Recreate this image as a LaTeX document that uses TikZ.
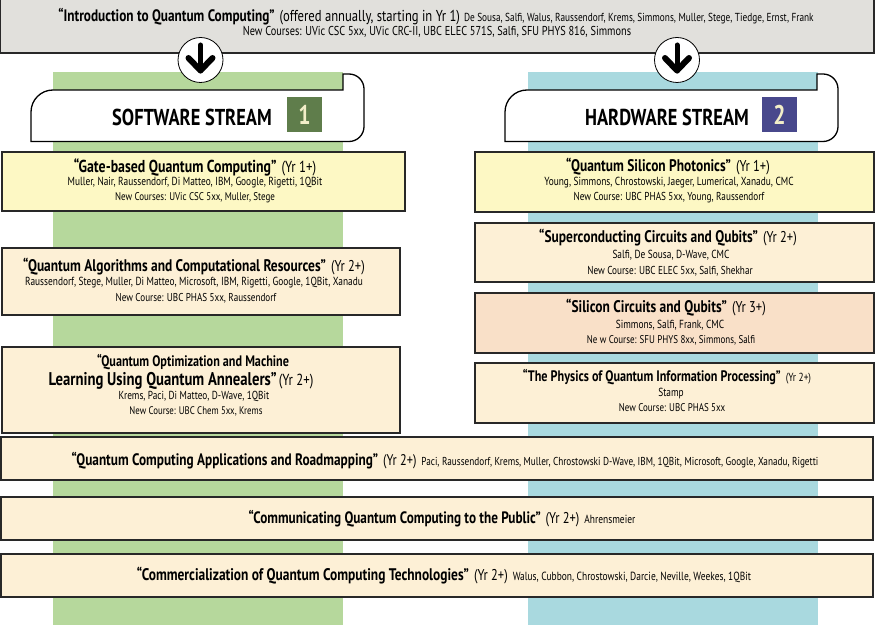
\documentclass[tikz,border=0pt]{standalone}
\usepackage{fontspec}
\setmainfont{PT Sans}[FakeStretch=0.8]
\usepackage{xcolor}
\usepackage{tikz}
\usetikzlibrary{positioning}
\definecolor{introgray}{RGB}{225,224,220}
\definecolor{swgreen}{RGB}{182,216,156}
\definecolor{hwblue}{RGB}{169,217,223}
\definecolor{yellowbox}{RGB}{253,248,196}
\definecolor{creambox}{RGB}{253,240,214}
\definecolor{peachbox}{RGB}{249,224,200}
\definecolor{swbadge}{RGB}{95,125,75}
\definecolor{hwbadge}{RGB}{72,72,140}
\definecolor{numcream}{RGB}{242,238,200}
\definecolor{boxline}{RGB}{40,40,40}
\newcommand{\fs}[1]{\fontsize{#1}{#1}\selectfont}
\newcommand{\yr}[2][15.6]{\hspace{5pt}{\fs{#1}\mdseries(Yr~#2)}}

\begin{document}
\begin{tikzpicture}[x=1pt, y=-1pt,
    course/.style={draw=boxline, line width=1.2pt, inner sep=0pt},
    ttl/.style={font=\fs{16.8}\bfseries, inner sep=0pt},
    who/.style={font=\fs{11.7}, inner sep=0pt},
    crs/.style={font=\fs{11.2}, inner sep=0pt},
    banner/.style={draw=black, line width=1.3pt, fill=white},
    badge/.style={minimum size=35pt, inner sep=0pt, font=\fs{27}\bfseries, text=numcream},
    stream/.style={font=\fs{23}\bfseries, inner sep=0pt},
    arrowdisc/.style={circle, draw=black, line width=0.8pt, fill=white, minimum size=45pt, inner sep=0pt},
    arrowstroke/.style={line width=5pt, line cap=round, line join=round}]
  \useasboundingbox (0,0) rectangle (875,628);

  %% Stream columns
  \fill[swgreen] (53,72) rectangle (343,625);
  \fill[hwblue] (528,72) rectangle (818,625);

  %% Intro course bar
  \node[course, fill=introgray, minimum width=874, minimum height=54] (intro) at (437,26) {};
  \node[ttl, font=\fs{16.6}\bfseries] (intro-t) at (436,17)
    {“Introduction to Quantum Computing”\hspace{5pt}{\fs{15.8}\mdseries(offered annually, starting in Yr 1)}\hspace{4pt}{\fs{11.6}\mdseries De Sousa, Salfi, Walus, Raussendorf, Krems, Simmons, Muller, Stege, Tiedge, Ernst, Frank}};
  \node[who, font=\fs{12.9}] (intro-c) at (437,32) {New Courses: UVic CSC 5xx, UVic CRC-II, UBC ELEC 571S, Salfi, SFU PHYS 816, Simmons};

  %% Arrows into the streams
  \foreach \nm/\x in {sw/200.5, hw/677}{
    \node[arrowdisc] (\nm-arr) at (\x,60) {};
    \draw[arrowstroke] (\nm-arr.center) ++(0,-15) -- ++(0,26);
    \draw[arrowstroke, line width=6pt] (\nm-arr.center) ++(-12,-2) -- ++(12,12.5) -- ++(12,-12.5);
  }

  %% Stream banners
  \draw[banner] (31,141.5) -- (31,112) arc[start angle=180, end angle=270, radius=22]
    -- (343,90) -- (343,74) -- (349,74) arc[start angle=270, end angle=360, radius=15]
    -- (364,126.5) arc[start angle=0, end angle=90, radius=15] -- cycle;
  \draw[banner] (505,141.5) -- (505,112) arc[start angle=180, end angle=270, radius=22]
    -- (817,90) -- (817,74) -- (823,74) arc[start angle=270, end angle=360, radius=15]
    -- (838,126.5) arc[start angle=0, end angle=90, radius=15] -- cycle;
  \node[stream] (sw-txt) at (192,117) {SOFTWARE STREAM};
  \node[badge, fill=swbadge] (sw-num) at (304.5,114.5) {1};
  \node[stream] (hw-txt) at (667,117) {HARDWARE STREAM};
  \node[badge, fill=hwbadge] (hw-num) at (779.5,114.5) {2};

  %% Software stream courses
  \node[course, fill=yellowbox, minimum width=403, minimum height=59] (gate) at (203.5,181.5) {};
  \node[ttl, font=\fs{17.3}\bfseries] (gate-t) at (195,167) {“Gate-based Quantum Computing”\yr[16]{1+}};
  \node[who] (gate-n) at (195,183) {Muller, Nair, Raussendorf, Di Matteo, IBM, Google, Rigetti, 1QBit};
  \node[crs] (gate-c) at (195,198) {New Courses: UVic CSC 5xx, Muller, Stege};

  \node[course, fill=creambox, minimum width=398, minimum height=67] (algo) at (201,281.5) {};
  \node[ttl] (algo-t) at (194,267) {“Quantum Algorithms and Computational Resources”\yr{2+}};
  \node[who] (algo-n) at (194,283) {Raussendorf, Stege, Muller, Di Matteo, Microsoft, IBM, Rigetti, Google, 1QBit, Xanadu};
  \node[crs, font=\fs{11.4}] (algo-c) at (196,298) {New Course: UBC PHAS 5xx, Raussendorf};

  \node[course, fill=creambox, minimum width=398, minimum height=86] (optim) at (201,390) {};
  \node[ttl, font=\fs{15.2}\bfseries] (optim-t) at (193,362) {“Quantum Optimization and Machine};
  \node[ttl, font=\fs{18.4}\bfseries] (optim-u) at (181,381) {Learning Using Quantum Annealers”\hspace{2pt}{\fs{16}\mdseries(Yr~2+)}};
  \node[who, font=\fs{11.6}] (optim-n) at (194,396) {Krems, Paci, Di Matteo, D-Wave, 1QBit};
  \node[crs, font=\fs{11}] (optim-c) at (196,411) {New Course: UBC Chem 5xx, Krems};

  %% Hardware stream courses
  \node[course, fill=yellowbox, minimum width=399, minimum height=60] (phot) at (674.5,182) {};
  \node[ttl] (phot-t) at (668,167) {“Quantum Silicon Photonics”\yr{1+}};
  \node[who] (phot-n) at (669,183) {Young, Simmons, Chrostowski, Jaeger, Lumerical, Xanadu, CMC};
  \node[crs, font=\fs{11.5}] (phot-c) at (669,198) {New Course: UBC PHAS 5xx, Young, Raussendorf};

  \node[course, fill=creambox, minimum width=399, minimum height=59] (super) at (674.5,252.5) {};
  \node[ttl] (super-t) at (668,238) {“Superconducting Circuits and Qubits”\yr{2+}};
  \node[who] (super-n) at (671,255) {Salfi, De Sousa, D-Wave, CMC};
  \node[crs, font=\fs{11.5}] (super-c) at (670,271) {New Course: UBC ELEC 5xx, Salfi, Shekhar};

  \node[course, fill=peachbox, minimum width=399, minimum height=60] (sicirc) at (674.5,323) {};
  \node[ttl] (sicirc-t) at (666,308) {“Silicon Circuits and Qubits”\yr{3+}};
  \node[who] (sicirc-n) at (670,325) {Simmons, Salfi, Frank, CMC};
  \node[crs] (sicirc-c) at (671,340) {Ne w Course: SFU PHYS 8xx, Simmons, Salfi};

  \node[course, fill=creambox, minimum width=399, minimum height=60] (physqip) at (674.5,393) {};
  \node[ttl, font=\fs{15.2}\bfseries] (physqip-t) at (667,377) {“The Physics of Quantum Information Processing”\hspace{5pt}{\fs{11.7}\mdseries(Yr~2+)}};
  \node[who] (physqip-n) at (671,394) {Stamp};
  \node[crs, font=\fs{11.2}] (physqip-c) at (672,408) {New Course: UBC PHAS 5xx};

  %% Shared courses
  \node[course, fill=creambox, minimum width=872, minimum height=43] (apps) at (437,458.5) {};
  \node[ttl, font=\fs{16.6}\bfseries] (apps-t) at (445,461)
    {“Quantum Computing Applications and Roadmapping”\yr[15.4]{2+}\hspace{5pt}{\fs{11.5}\mdseries Paci, Raussendorf, Krems, Muller, Chrostowski D-Wave, IBM, 1QBit, Microsoft, Google, Xanadu, Rigetti}};

  \node[course, fill=creambox, minimum width=872, minimum height=43] (comm) at (437,518.5) {};
  \node[ttl, font=\fs{16.5}\bfseries] (comm-t) at (442,519)
    {“Communicating Quantum Computing to the Public”\yr{2+}\hspace{5pt}{\fs{11.8}\mdseries Ahrensmeier}};

  \node[course, fill=creambox, minimum width=872, minimum height=43] (comz) at (437,575.5) {};
  \node[ttl, font=\fs{16.8}\bfseries] (comz-t) at (444,576)
    {“Commercialization of Quantum Computing Technologies”\yr{2+}\hspace{5pt}{\fs{11.8}\mdseries Walus, Cubbon, Chrostowski, Darcie, Neville, Weekes, 1QBit}};
\end{tikzpicture}
\end{document}
